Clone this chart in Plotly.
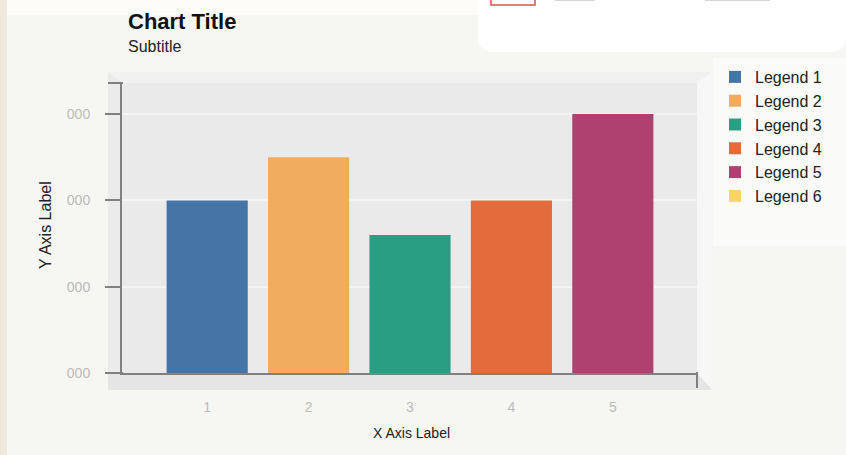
import plotly.graph_objects as go

# ---- data ----
categories = ["1", "2", "3", "4", "5"]
series_names = ["Legend 1", "Legend 2", "Legend 3", "Legend 4", "Legend 5", "Legend 6"]
series_values = [2000, 2500, 1600, 2000, 3000, None]
series_colors = ["#4475A6", "#F2AC60", "#2A9E82", "#E46B3B", "#AE416F", "#FDD36B"]
y_tick_values = [0, 1000, 2000, 3000]
y_tick_labels = ["000", "000", "000", "000"]

W, H = 846, 455
L, R, T, B = 122, 149, 83, 82
PW, PH = W - L - R, H - T - B


def px(x):
    return (x - L) / PW


def py(y):
    return (H - B - y) / PH


fig = go.Figure()
for i, name in enumerate(series_names):
    cat = categories[i] if i < len(categories) else categories[-1]
    fig.add_trace(go.Bar(
        x=[cat], y=[series_values[i]], name=name,
        marker=dict(color=series_colors[i], line=dict(width=0)),
        width=0.8,
    ))


def poly(pts, fill, layer="below"):
    d = "M " + " L ".join(f"{px(a):.5f},{py(b):.5f}" for a, b in pts) + " Z"
    return dict(type="path", path=d, xref="paper", yref="paper",
                fillcolor=fill, line=dict(width=0), layer=layer)


def seg(x0, y0, x1, y1, color="#808080", w=2):
    return dict(type="line", xref="paper", yref="paper",
                x0=px(x0), y0=py(y0), x1=px(x1), y1=py(y1),
                line=dict(color=color, width=w), layer="above")


def rect(x0, y0, x1, y1, fill, lc=None, lw=0, layer="below"):
    return dict(type="rect", xref="paper", yref="paper",
                x0=px(x0), y0=py(y0), x1=px(x1), y1=py(y1),
                fillcolor=fill, line=dict(color=lc or fill, width=lw), layer=layer)


# rounded white panel top right
r = 16
panel = (f"M {px(478):.5f},{py(-2):.5f} L {px(478):.5f},{py(52-r):.5f} "
         f"Q {px(478):.5f},{py(52):.5f} {px(478+r):.5f},{py(52):.5f} "
         f"L {px(830):.5f},{py(52):.5f} Q {px(846):.5f},{py(52):.5f} {px(846):.5f},{py(52-r):.5f} "
         f"L {px(846):.5f},{py(-2):.5f} Z")

shapes = [
    rect(0, -2, 846, 15, "#FDFCF8"),
    rect(713, 58, 846, 246, "#FAFAF8"),
    dict(type="path", path=panel, xref="paper", yref="paper",
         fillcolor="#FFFFFF", line=dict(width=0), layer="below"),
    rect(0, -2, 7, 457, "#EFE8DE"),
    rect(491, -3, 535, 5, "#FFFFFF", "#D9534F", 1.5),
    rect(555, -3, 595, 1, "#D5D5D5"),
    rect(705, -3, 770, 1, "#D5D5D5"),
    poly([(108, 72), (712, 72), (697, 83), (122, 83)], "#F1F1F1"),
    poly([(108, 72), (122, 83), (122, 373), (108, 388)], "#EBEBEB"),
    poly([(712, 72), (712, 390), (697, 373), (697, 83)], "#F7F7F7"),
    poly([(108, 373), (697, 373), (712, 390), (108, 390)], "#E5E5E5"),
    seg(108, 373, 123, 373),
    seg(697, 372, 697, 388),
    seg(108, 83, 123, 83),
]

annotations = [
    dict(text="<b>Chart Title</b>", x=px(126), y=py(21), xref="paper", yref="paper",
         xanchor="left", yanchor="middle", showarrow=False,
         font=dict(size=22, color="#111111")),
    dict(text="Subtitle", x=px(126), y=py(47), xref="paper", yref="paper",
         xanchor="left", yanchor="middle", showarrow=False,
         font=dict(size=16, color="#222222")),
    dict(text="X Axis Label", x=px(411), y=py(433), xref="paper", yref="paper",
         xanchor="center", yanchor="middle", showarrow=False,
         font=dict(size=14, color="#222222")),
    dict(text="Y Axis Label", x=px(45), y=py(225), xref="paper", yref="paper",
         xanchor="center", yanchor="middle", showarrow=False, textangle=-90,
         font=dict(size=16, color="#222222")),
]

fig.update_layout(
    width=W, height=H,
    margin=dict(l=L, r=R, t=T, b=B, pad=0),
    paper_bgcolor="#F6F6F3",
    plot_bgcolor="#EAEAEA",
    font=dict(family="Liberation Sans, Arial, sans-serif"),
    barmode="overlay",
    showlegend=True,
    legend=dict(x=px(715), y=py(60), xref="paper", yref="paper",
                xanchor="left", yanchor="top", bgcolor="rgba(0,0,0,0)",
                font=dict(size=16, color="#222222"), traceorder="normal"),
    shapes=shapes,
    annotations=annotations,
    xaxis=dict(type="category", categoryorder="array", categoryarray=categories,
               range=[-0.84, 4.83], showline=True, linecolor="#808080", linewidth=2,
               ticks="", showgrid=False, zeroline=False,
               tickfont=dict(size=14, color="#BBBBBB"), ticklabelstandoff=20),
    yaxis=dict(range=[0, 3360], tickvals=y_tick_values, ticktext=y_tick_labels,
               showline=True, linecolor="#808080", linewidth=2,
               ticks="outside", ticklen=15, tickwidth=2, tickcolor="#808080",
               showgrid=True, gridcolor="#F4F4F4", gridwidth=2, zeroline=False,
               tickfont=dict(size=14, color="#BBBBBB"), ticklabelstandoff=12),
)

fig.write_html("out.html", config={"displayModeBar": False},
               post_script="document.body.style.margin='0';document.body.style.background='#F6F6F3';")
